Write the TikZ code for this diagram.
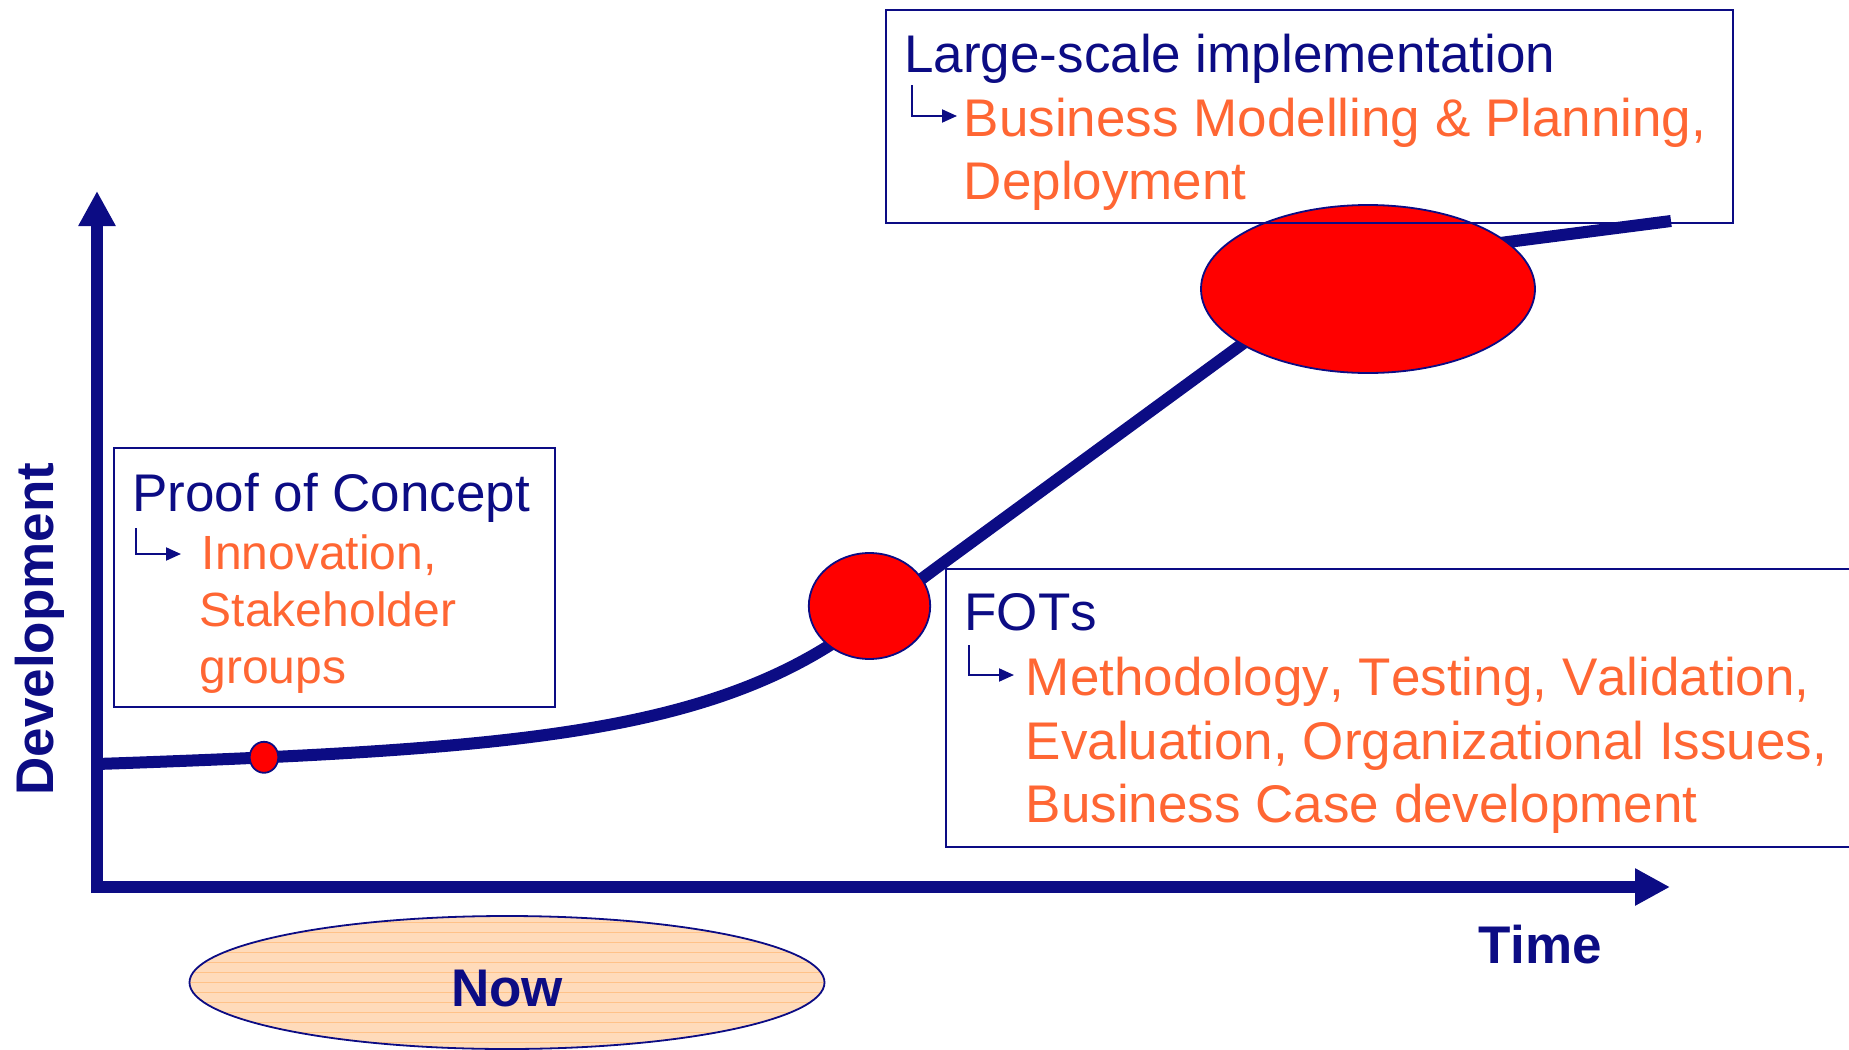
\documentclass[tikz,border=0pt]{standalone}
\usepackage{fontspec}
\setmainfont{Liberation Sans}[Kerning=Off]
\usetikzlibrary{arrows.meta,shapes.geometric}
\definecolor{dkblue}{RGB}{12,12,132}
\definecolor{txtorange}{RGB}{255,102,51}
\definecolor{peachfill}{RGB}{255,219,186}
\definecolor{peachline}{RGB}{255,194,136}
\begin{document}
\begin{tikzpicture}[x=0.5pt,y=-0.5pt,
  reg/.style={anchor=base west, inner sep=0pt, font=\fontsize{26.5}{30}\selectfont},
  headtxt/.style={reg, text=dkblue},
  itemtxt/.style={reg, text=txtorange},
  smallitem/.style={itemtxt, font=\fontsize{24}{28}\selectfont},
  lbl/.style={inner sep=0pt, text=dkblue, font=\fontsize{26.5}{30}\selectfont\bfseries},
  boxframe/.style={draw=dkblue, line width=0.9pt, rectangle, inner sep=0pt, anchor=north west},
  blob/.style={ellipse, draw=dkblue, line width=0.9pt, fill=red, inner sep=0pt},
  axisline/.style={draw=dkblue, line width=5.75pt, -{Triangle[length=17.5pt,width=17.5pt]}},
  curveline/.style={draw=dkblue, line width=6pt},
  hookarrow/.style={draw=dkblue, line width=1pt, -{Triangle[length=7.5pt,width=6.5pt]}}
]
\useasboundingbox (0,0) rectangle (1849,1050);

% "Now" ellipse
\node[ellipse, draw=dkblue, line width=0.9pt, fill=peachfill, inner sep=0pt,
      minimum width=317.5pt, minimum height=66.5pt,
      path picture={\foreach \k in {-7,...,7}{\draw[draw=peachline, line width=0.6pt]
        ([yshift=\k*5pt]path picture bounding box.west) -- ([yshift=\k*5pt]path picture bounding box.east);}}]
  (nowell) at (507,982.5) {};
\node[lbl, anchor=base] (now) at (507,1006) {Now};

% axes
\coordinate (ybot) at (97,893);
\coordinate (ytip) at (97,191);
\coordinate (xleft) at (91.25,887);
\coordinate (xtip) at (1670,887);
\draw[axisline] (ybot) -- (ytip);
\draw[axisline] (xleft) -- (xtip);

\node[lbl, rotate=90, anchor=base west] (dev) at (54,796) {Development};
\node[lbl, anchor=base] (time) at (1540,963) {Time};

% growth curve
\coordinate (c1) at (940,565.3);
\coordinate (c2) at (1245,342);
\coordinate (c3) at (1500,243);
\coordinate (cend) at (1671,221);
\draw[curveline]
  plot[domain=97:840, samples=80, smooth] (\x, {764-0.0267*(\x-97)-1.24*(exp(0.006*(\x-97))-1)})
  .. controls (870,618.3) and (910,587.3) .. (c1)
  -- (c2)
  .. controls (1305,298) and (1420,253.4) .. (c3)
  -- (cend);

% milestones
\node[blob, minimum width=14.3pt, minimum height=15.5pt] (dot) at (264,757.3) {};
\node[blob, minimum width=60.7pt, minimum height=53pt] (mid) at (869.5,606) {};
\node[blob, minimum width=167pt, minimum height=84pt] (big) at (1368,289) {};

% Large-scale implementation box
\node[boxframe, minimum width=423.5pt, minimum height=106.5pt] (lsibox) at (885,9) {};
\node[headtxt] (lsi1) at (904,72) {Large-scale implementation};
\coordinate (lsiA) at (912,85);
\coordinate (lsiB) at (957,116);
\draw[hookarrow] (lsiA) |- (lsiB);
\node[itemtxt] (lsi2) at (963.5,136) {Business Modelling \& Planning,};
\node[itemtxt] (lsi3) at (963.5,199) {Deployment};

% Proof of Concept box
\node[boxframe, minimum width=220.5pt, minimum height=129.5pt] (pocbox) at (113,447) {};
\node[headtxt] (poc1) at (132,511) {Proof of Concept};
\coordinate (pocA) at (136,528);
\coordinate (pocB) at (181,554);
\draw[hookarrow] (pocA) |- (pocB);
\node[smallitem] (poc2) at (201.5,569) {Innovation,};
\node[smallitem] (poc3) at (199.5,626) {Stakeholder};
\node[smallitem] (poc4) at (199,683) {groups};

% FOTs box
\node[boxframe, minimum width=462.5pt, minimum height=139pt] (fotbox) at (945,568) {};
\node[headtxt] (fot1) at (964,630) {FOTs};
\coordinate (fotA) at (969,645);
\coordinate (fotB) at (1014,675);
\draw[hookarrow] (fotA) |- (fotB);
\node[itemtxt] (fot2) at (1025.5,695) {Methodology, Testing, Validation,};
\node[itemtxt] (fot3) at (1025.5,759) {Evaluation, Organizational Issues,};
\node[itemtxt] (fot4) at (1025.5,822) {Business Case development};
\end{tikzpicture}
\end{document}
